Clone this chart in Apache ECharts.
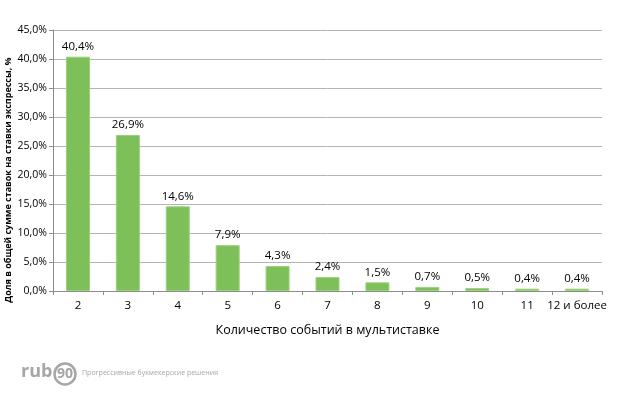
<!DOCTYPE html>
<html><head><meta charset="utf-8">
<script src="https://cdn.jsdelivr.net/npm/echarts@6/dist/echarts.min.js"></script>
<style>html,body{margin:0;padding:0;background:#fff}#c{width:618px;height:400px}</style>
</head><body><div id="c"></div>
<script>
const categories = ['2','3','4','5','6','7','8','9','10','11','12 и более'];
const values = [40.4, 26.9, 14.6, 7.9, 4.3, 2.4, 1.5, 0.7, 0.5, 0.4, 0.4];
const yMin = 0, yMax = 45, yStep = 5;
const xTitle = 'Количество событий в мультиставке';
const yTitle = 'Доля в общей сумме ставок на ставки экспрессы, %';
const fmt = v => v.toFixed(1).replace('.', ',') + '%';
const chart = echarts.init(document.getElementById('c'));
const font = '"Open Sans", "Noto Sans", sans-serif';
chart.setOption({
  animation: false,
  grid: {left: 53, right: 16, top: 30, bottom: 109},
  xAxis: {
    type: 'category', data: categories,
    axisLine: {lineStyle: {color: '#8c8c8c'}},
    axisTick: {show: true, interval: 0, length: 4, lineStyle: {color: '#8c8c8c'}},
    axisLabel: {interval: 0, color: '#000', fontSize: 11.5, fontFamily: font, margin: 9},
    name: xTitle, nameLocation: 'middle', nameGap: 33,
    nameTextStyle: {color: '#000', fontSize: 12.5, fontFamily: font}
  },
  yAxis: {
    type: 'value', min: yMin, max: yMax, interval: yStep,
    axisLine: {show: true, lineStyle: {color: '#8c8c8c'}},
    axisTick: {show: true, length: 4, lineStyle: {color: '#8c8c8c'}},
    splitLine: {lineStyle: {color: '#b4b4b4'}},
    axisLabel: {color: '#000', fontSize: 10.5, fontFamily: font, margin: 6, formatter: v => fmt(v)}
  },
  series: [{
    type: 'bar', data: values, barWidth: 24,
    itemStyle: {color: '#7dbf58', borderColor: '#9bd27c', borderWidth: 1},
    label: {show: true, position: 'top', distance: 4, color: '#000', fontSize: 11.5, fontFamily: font, formatter: p => fmt(p.value)}
  }],
  graphic: [
    {type: 'text', x: 8, y: 180, rotation: Math.PI / 2, style: {text: yTitle, fontSize: 9, fontWeight: 'bold', fill: '#000', fontFamily: font, align: 'center', verticalAlign: 'middle'}},
    {type: 'text', left: 21, top: 363, style: {text: 'rub', fontSize: 18, fontWeight: 'bold', fill: '#a6a6a6', fontFamily: font}},
    {type: 'circle', shape: {cx: 65, cy: 374, r: 10.5}, style: {fill: 'none', stroke: '#a6a6a6', lineWidth: 2.5}},
    {type: 'text', x: 65, y: 374, style: {text: '90', fontSize: 14, fontWeight: 'bold', fill: '#a6a6a6', fontFamily: font, align: 'center', verticalAlign: 'middle'}},
    {type: 'text', left: 82, top: 369, style: {text: 'Прогрессивные букмекерские решения', fontSize: 7, fill: '#a6a6a6', fontFamily: font}}
  ]
});
</script></body></html>
